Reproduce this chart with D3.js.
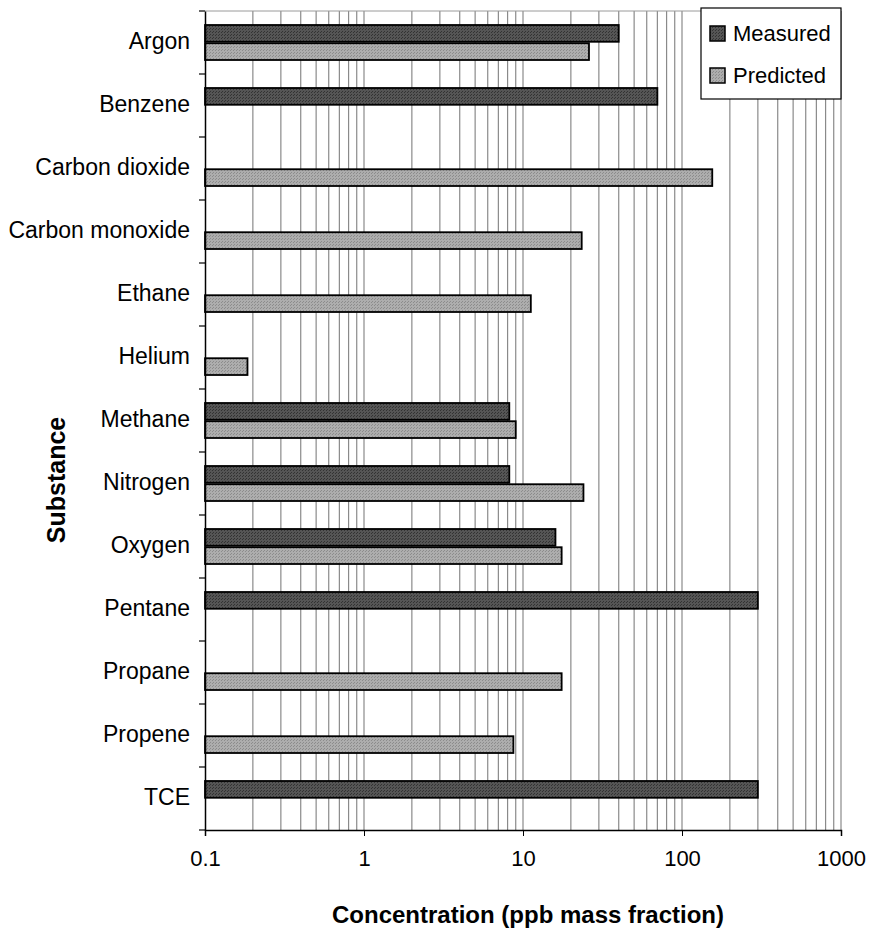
<!DOCTYPE html>
<html>
<head>
<meta charset="utf-8">
<script src="https://cdn.jsdelivr.net/npm/d3@7"></script>
<style>
  body { margin: 0; background: #fff; }
  text { font-family: "Liberation Sans", Arial, sans-serif; fill: #000; }
</style>
</head>
<body>
<div class="container"></div>
<script>
var substances = ["Argon", "Benzene", "Carbon dioxide", "Carbon monoxide", "Ethane", "Helium",
  "Methane", "Nitrogen", "Oxygen", "Pentane", "Propane", "Propene", "TCE"];
var measured = [40, 70, null, null, null, null, 8.2, 8.2, 16, 300, null, null, 300];
var predicted = [26, null, 155, 23.4, 11.2, 0.185, 9, 24, 17.5, null, 17.5, 8.7, null];
var xTicks = [0.1, 1, 10, 100, 1000];
var seriesNames = ["Measured", "Predicted"];
var seriesColors = ["#555", "#adadad"];
var seriesDots = ["#333", "#8c8c8c"];

var width = 877,
  height = 935,
  plotLeft = 205,
  plotRight = 841,
  plotTop = 11,
  plotBottom = 830;

var svg = d3.select(".container").append("svg")
  .attr("width", width)
  .attr("height", height);

// dithered fills, like the printed original
var defs = svg.append("defs");
seriesNames.forEach(function (name, i) {
  var p = defs.append("pattern")
    .attr("id", "fill" + i)
    .attr("width", 3).attr("height", 3)
    .attr("patternUnits", "userSpaceOnUse");
  p.append("rect").attr("width", 3).attr("height", 3).attr("fill", seriesColors[i]);
  p.append("rect").attr("width", 1).attr("height", 1).attr("fill", seriesDots[i]);
  p.append("rect").attr("x", 2).attr("y", 1).attr("width", 1).attr("height", 1).attr("fill", seriesDots[i]);
});

var x = d3.scaleLog()
  .domain([0.1, 1000])
  .range([plotLeft, plotRight]);

var y = d3.scaleBand()
  .domain(substances)
  .range([plotTop, plotBottom]);

var inner = d3.scaleBand()
  .domain(seriesNames)
  .range([0, 35])
  .paddingInner(0.08);

var innerOffset = (y.bandwidth() - 35) / 2;

// grid lines at every log step
var gridVals = [];
for (var e = -1; e < 3; e++) {
  for (var k = 1; k <= 9; k++) gridVals.push(k * Math.pow(10, e));
}
gridVals.push(1000);

svg.append("g")
  .selectAll("line")
  .data(gridVals.slice(1))
  .join("line")
  .attr("x1", d => x(d)).attr("x2", d => x(d))
  .attr("y1", plotTop).attr("y2", plotBottom)
  .attr("stroke", "#8a8a8a")
  .attr("stroke-width", 1.2);

// top border
svg.append("line")
  .attr("x1", plotLeft).attr("x2", plotRight)
  .attr("y1", plotTop).attr("y2", plotTop)
  .attr("stroke", "#9a9a9a")
  .attr("stroke-width", 1);

// bars
var rows = substances.map((s, i) => ({ name: s, values: [measured[i], predicted[i]] }));

var groups = svg.append("g")
  .selectAll("g")
  .data(rows)
  .join("g")
  .attr("transform", d => "translate(0," + (y(d.name) + innerOffset) + ")");

groups.selectAll("rect")
  .data(d => d.values.map((v, j) => ({ series: seriesNames[j], value: v, j: j })).filter(d => d.value != null))
  .join("rect")
  .attr("x", x(0.1))
  .attr("y", d => inner(d.series))
  .attr("width", d => x(d.value) - x(0.1))
  .attr("height", inner.bandwidth())
  .attr("fill", d => "url(#fill" + d.j + ")")
  .attr("stroke", "#000")
  .attr("stroke-width", 1.8);

// left axis
var yAxis = d3.axisLeft(y).tickSize(0).tickPadding(15);
var yg = svg.append("g")
  .attr("transform", "translate(" + plotLeft + ",0)")
  .call(yAxis);
yg.select(".domain").attr("stroke", "#000").attr("stroke-width", 1.5);
yg.selectAll("text").style("font-size", "23px").attr("font-family", null).attr("dy", "0.3em");

// category separator ticks
svg.append("g")
  .selectAll("line")
  .data(d3.range(substances.length + 1))
  .join("line")
  .attr("x1", plotLeft - 6).attr("x2", plotLeft)
  .attr("y1", i => plotTop + i * y.step())
  .attr("y2", i => plotTop + i * y.step())
  .attr("stroke", "#000")
  .attr("stroke-width", 1.2);

// bottom axis
var xAxis = d3.axisBottom(x).tickValues(xTicks).tickFormat(d3.format("")).tickSize(6).tickPadding(14);
var xg = svg.append("g")
  .attr("transform", "translate(0," + plotBottom + ")")
  .call(xAxis);
xg.select(".domain").attr("stroke", "#000").attr("stroke-width", 1.5);
xg.selectAll(".tick line").attr("stroke", "#000");
xg.selectAll("text").style("font-size", "22px").attr("font-family", null);

// axis titles
svg.append("text")
  .attr("x", 528)
  .attr("y", 923)
  .attr("text-anchor", "middle")
  .style("font-size", "24px")
  .style("font-weight", "bold")
  .text("Concentration (ppb mass fraction)");

svg.append("text")
  .attr("transform", "translate(65,480) rotate(-90)")
  .attr("text-anchor", "middle")
  .style("font-size", "25px")
  .style("font-weight", "bold")
  .text("Substance");

// legend
var legend = svg.append("g").attr("transform", "translate(701,8)");
legend.append("rect")
  .attr("width", 140).attr("height", 91)
  .attr("fill", "#fff")
  .attr("stroke", "#000")
  .attr("stroke-width", 1.2);

var items = legend.selectAll("g.item")
  .data(seriesNames)
  .join("g")
  .attr("class", "item")
  .attr("transform", (d, i) => "translate(9," + (18 + i * 42) + ")");
items.append("rect")
  .attr("width", 15).attr("height", 15)
  .attr("fill", (d, i) => "url(#fill" + i + ")")
  .attr("stroke", "#000")
  .attr("stroke-width", 1.5);
items.append("text")
  .attr("x", 23).attr("y", 15)
  .style("font-size", "22px")
  .text(d => d);
</script>
</body>
</html>
